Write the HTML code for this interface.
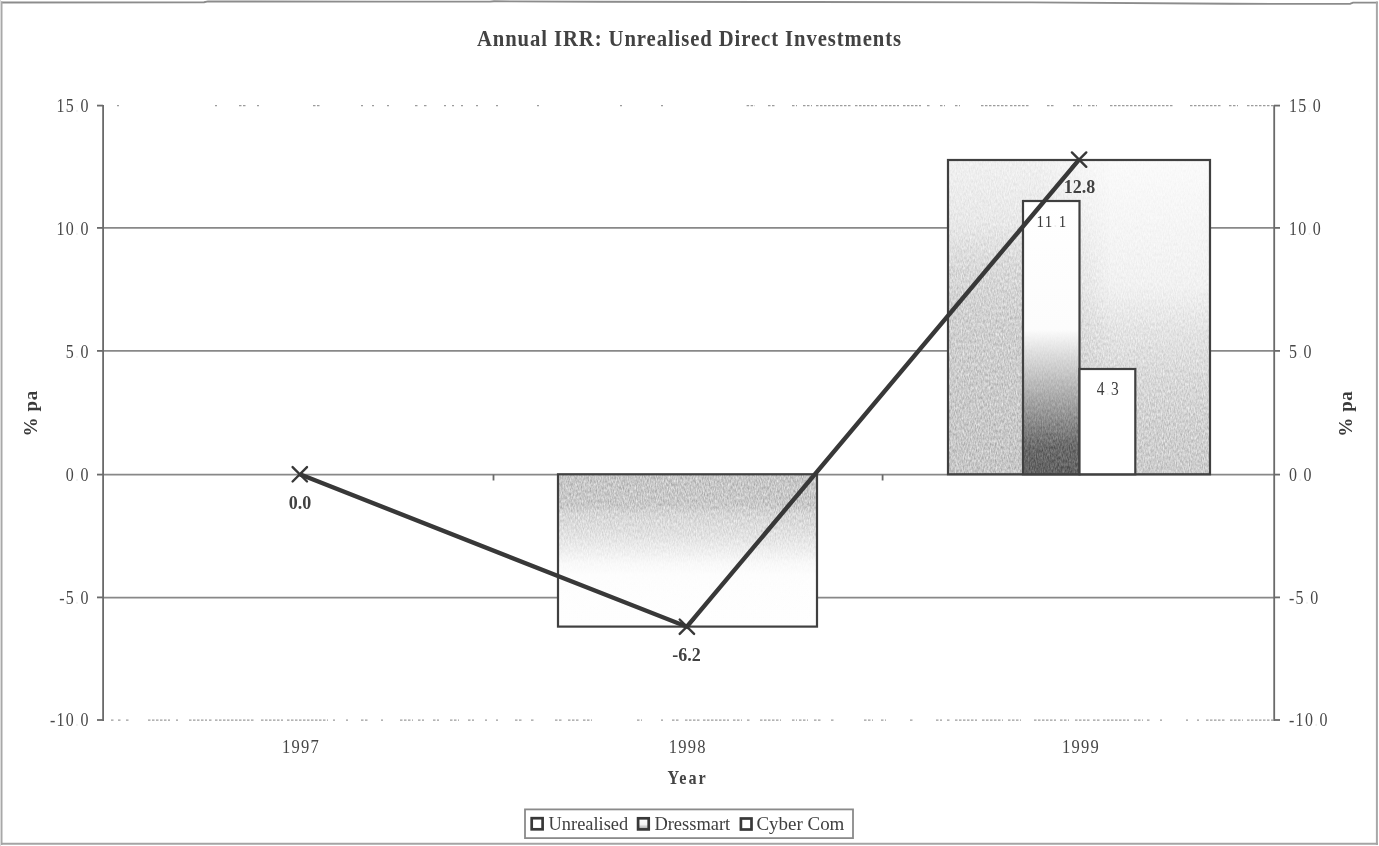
<!DOCTYPE html>
<html><head><meta charset="utf-8"><title>Annual IRR: Unrealised Direct Investments</title>
<style>
html,body{margin:0;padding:0;background:#fff;}
body{width:1379px;height:846px;overflow:hidden;position:relative;}
svg{position:absolute;left:0;top:0;display:block;}
.serif{font-family:"Liberation Serif","Times New Roman",serif;}
.sans{font-family:"Liberation Sans",Arial,sans-serif;}
</style></head>
<body>
<svg width="1379" height="846" viewBox="0 0 1379 846">
  <defs>
    <!-- 1999 unrealised: right (lighter) profile -->
    <linearGradient id="gUpR" x1="0" y1="0" x2="0" y2="1">
      <stop offset="0" stop-color="#fafafa"/>
      <stop offset="0.4" stop-color="#f1f1f1"/>
      <stop offset="0.55" stop-color="#e3e3e3"/>
      <stop offset="0.7" stop-color="#d8d8d8"/>
      <stop offset="0.85" stop-color="#d0d0d0"/>
      <stop offset="1" stop-color="#cccccc"/>
    </linearGradient>
    <!-- 1999 unrealised: left (darker) profile -->
    <linearGradient id="gUpL" x1="0" y1="0" x2="0" y2="1">
      <stop offset="0" stop-color="#f0f0f0"/>
      <stop offset="0.2" stop-color="#e8e8e8"/>
      <stop offset="0.35" stop-color="#d8d8d8"/>
      <stop offset="0.5" stop-color="#d0d0d0"/>
      <stop offset="0.75" stop-color="#cacaca"/>
      <stop offset="1" stop-color="#c6c6c6"/>
    </linearGradient>
    <linearGradient id="gFadeH" x1="0" y1="0" x2="1" y2="0">
      <stop offset="0" stop-color="#fff"/>
      <stop offset="0.35" stop-color="#fff"/>
      <stop offset="0.62" stop-color="#000"/>
      <stop offset="1" stop-color="#000"/>
    </linearGradient>
    <mask id="mLeft" maskUnits="userSpaceOnUse" x="948" y="159" width="262" height="316">
      <rect x="948" y="159" width="262" height="316" fill="url(#gFadeH)"/>
    </mask>
    <!-- 1998 unrealised (negative): grey at axis, white at end -->
    <linearGradient id="gDown" x1="0" y1="0" x2="0" y2="1">
      <stop offset="0" stop-color="#c6c6c6"/>
      <stop offset="0.2" stop-color="#c9c9c9"/>
      <stop offset="0.26" stop-color="#d6d6d6"/>
      <stop offset="0.4" stop-color="#e2e2e2"/>
      <stop offset="0.5" stop-color="#eeeeee"/>
      <stop offset="0.58" stop-color="#f8f8f8"/>
      <stop offset="0.66" stop-color="#fdfdfd"/>
      <stop offset="1" stop-color="#fefefe"/>
    </linearGradient>
    <linearGradient id="gDress" x1="0" y1="0" x2="0" y2="1">
      <stop offset="0" stop-color="#ffffff"/>
      <stop offset="0.47" stop-color="#fcfcfc"/>
      <stop offset="0.55" stop-color="#e0e0e0"/>
      <stop offset="0.68" stop-color="#b6b6b6"/>
      <stop offset="0.8" stop-color="#8e8e8e"/>
      <stop offset="0.9" stop-color="#6a6a6a"/>
      <stop offset="1" stop-color="#626262"/>
    </linearGradient>
    <linearGradient id="gLeg" x1="0" y1="0" x2="0" y2="1">
      <stop offset="0" stop-color="#fff"/>
      <stop offset="0.55" stop-color="#f4f4f4"/>
      <stop offset="1" stop-color="#9a9a9a"/>
    </linearGradient>
  <filter id="grain" x="0" y="0" width="1" height="1" color-interpolation-filters="sRGB">
      <feTurbulence type="fractalNoise" baseFrequency="0.85 0.3" numOctaves="2" seed="7" result="n"/>
      <feColorMatrix in="n" type="matrix" values="1 0 0 0 0  1 0 0 0 0  1 0 0 0 0  0 0 0 0 1" result="g"/>
      <feComposite in="SourceGraphic" in2="g" operator="arithmetic" k1="-1.7" k2="1.85" k3="1.7" k4="-0.85"/>
    </filter>
<filter id="grain2" x="0" y="0" width="1" height="1" color-interpolation-filters="sRGB">
      <feTurbulence type="fractalNoise" baseFrequency="0.85 0.3" numOctaves="2" seed="11" result="n"/>
      <feColorMatrix in="n" type="matrix" values="1 0 0 0 0  1 0 0 0 0  1 0 0 0 0  0 0 0 0 1" result="g"/>
      <feComposite in="SourceGraphic" in2="g" operator="arithmetic" k1="-0.55" k2="1.275" k3="0.55" k4="-0.275"/>
    </filter>
  </defs>

  <!-- outer frame -->
  <g fill="none" stroke-width="2">
    <polyline points="0.5,2.5 204,2.3 208,1.4 380,1.6 490,1.6 494,1.3 600,1.8 810,2 1030,2.4 1230,3.8 1350,3.9 1353,2.6 1378,2.6" stroke="#8c8c8c" stroke-width="1.9"/>
    <line x1="1.5" y1="1.5" x2="1.5" y2="845" stroke="#a8a8a8"/>
    <line x1="1376.9" y1="1.5" x2="1376.9" y2="845" stroke="#a8a8a8"/>
    <line x1="0.5" y1="843.8" x2="1378" y2="843.8" stroke="#a4a4a4"/>
  </g>
  <line x1="0.5" y1="0" x2="0.5" y2="846" stroke="#dadada" stroke-width="1"/>

  <!-- title -->
  <text class="serif" transform="translate(689 45.6) scale(0.88 1)" x="0" y="0" text-anchor="middle" font-size="23.5" font-weight="bold" fill="#424242" textLength="482" lengthAdjust="spacing">Annual IRR: Unrealised Direct Investments</text>

  <!-- top & bottom (faint, broken) gridlines -->
  <path d="M117 105.6H119M215 105.6H217M239 105.6H246M257 105.6H259M313 105.6H320M361 105.6H363M372 105.6H374M387 105.6H389M415 105.6H418M424 105.6H427M444 105.6H446M452 105.6H454M461 105.6H463M476 105.6H478M496 105.6H498M537 105.6H539M620 105.6H622M661 105.6H663M746.6 105.6H755M768 105.6H775M792 105.6H797M803 105.6H812M816 105.6H851M855 105.6H877M881 105.6H899M903 105.6H921M927 105.6H931M940 105.6H945M955 105.6H960M981 105.6H1008M1010 105.6H1029M1047 105.6H1055M1073 105.6H1082M1088 105.6H1097M1110 105.6H1142M1142 105.6H1173M1190 105.6H1221M1229 105.6H1238M1247 105.6H1273" stroke="#9c9c9c" stroke-width="1.2" stroke-dasharray="2.5 1.5" fill="none"/>
  <path d="M111 720.2H114M118 720.2H121M126 720.2H130M148 720.2H170M176 720.2H178M189 720.2H207M209 720.2H213M215 720.2H254M261 720.2H283M287 720.2H328M333 720.2H335M346 720.2H348M361 720.2H368M381 720.2H383M400 720.2H413M418 720.2H424M433 720.2H439M450 720.2H459M468 720.2H474M485 720.2H487M496 720.2H498M515 720.2H522M531 720.2H535M555 720.2H563M568 720.2H579M583 720.2H592M637 720.2H642M661 720.2H663M672 720.2H679M685 720.2H701M703 720.2H729M733 720.2H742M747 720.2H751M760 720.2H781M792 720.2H797M799 720.2H808M814 720.2H821M831 720.2H834M864 720.2H873M881 720.2H886M910 720.2H914M936 720.2H942M947 720.2H951M955 720.2H977M982 720.2H1003M1008 720.2H1021M1034 720.2H1056M1060 720.2H1069M1075 720.2H1090M1093 720.2H1101M1103 720.2H1129M1134 720.2H1143M1147 720.2H1151M1160 720.2H1162M1186 720.2H1188M1197 720.2H1199M1206 720.2H1225M1230 720.2H1243M1247 720.2H1273" stroke="#9c9c9c" stroke-width="1.2" stroke-dasharray="2.5 1.5" fill="none"/>

  <!-- gridlines -->
  <g stroke="#888888" stroke-width="1.8">
    <line x1="103" y1="227.9" x2="1274" y2="227.9"/>
    <line x1="103" y1="350.9" x2="1274" y2="350.9"/>
    <line x1="103" y1="474.6" x2="1274" y2="474.6"/>
    <line x1="103" y1="597.6" x2="1274" y2="597.6"/>
  </g>

  <!-- bars -->
  <rect x="558" y="474.3" width="259" height="152.3" fill="url(#gDown)" filter="url(#grain)"/>
  <rect x="558" y="474.3" width="259" height="152.3" fill="none" stroke="#404040" stroke-width="2.2"/>
  <g filter="url(#grain)"><rect x="948" y="160" width="262" height="314.3" fill="url(#gUpR)"/>
  <rect x="948" y="160" width="262" height="314.3" fill="url(#gUpL)" mask="url(#mLeft)"/></g>
  <rect x="948" y="160" width="262" height="314.3" fill="none" stroke="#404040" stroke-width="2.2"/>
  <rect x="1023" y="201" width="56.5" height="273.3" fill="url(#gDress)" filter="url(#grain2)"/>
  <rect x="1023" y="201" width="56.5" height="273.3" fill="none" stroke="#404040" stroke-width="2.2"/>
  <rect x="1079.5" y="369" width="55.8" height="105.3" fill="#fff" stroke="#404040" stroke-width="2.2"/>

  <!-- axes -->
  <g stroke="#6a6a6a" stroke-width="1.8" fill="none">
    <line x1="103.1" y1="105" x2="103.1" y2="721"/>
    <line x1="1274.2" y1="105" x2="1274.2" y2="721"/>
    <!-- left ticks -->
    <line x1="97" y1="105.6" x2="103" y2="105.6"/>
    <line x1="97" y1="227.9" x2="103" y2="227.9"/>
    <line x1="97" y1="350.9" x2="103" y2="350.9"/>
    <line x1="97" y1="474.6" x2="103" y2="474.6"/>
    <line x1="97" y1="597.4" x2="103" y2="597.4"/>
    <line x1="97" y1="720" x2="103" y2="720"/>
    <!-- right ticks -->
    <line x1="1274" y1="105.6" x2="1280" y2="105.6"/>
    <line x1="1274" y1="227.9" x2="1280" y2="227.9"/>
    <line x1="1274" y1="350.9" x2="1280" y2="350.9"/>
    <line x1="1274" y1="474.6" x2="1280" y2="474.6"/>
    <line x1="1274" y1="597.4" x2="1280" y2="597.4"/>
    <line x1="1274" y1="720" x2="1280" y2="720"/>
    <!-- category ticks -->
    <line x1="493.5" y1="474.6" x2="493.5" y2="480.5"/>
    <line x1="882.6" y1="474.6" x2="882.6" y2="480.5"/>
  </g>

  <!-- line series -->
  <polyline points="299.8,474.3 686.9,626.7 1079.1,159.6" fill="none" stroke="#383838" stroke-width="4.4" stroke-linejoin="miter"/>
  <g stroke="#383838" stroke-width="2.4" stroke-linecap="round">
    <path d="M292.6 467.1 L307 481.5 M292.6 481.5 L307 467.1"/>
    <path d="M679.7 619.5 L694.1 633.9 M679.7 633.9 L694.1 619.5"/>
    <path d="M1071.9 152.4 L1086.3 166.8 M1071.9 166.8 L1086.3 152.4"/>
  </g>

  <!-- data labels -->
  <g class="serif" font-size="18" font-weight="bold" fill="#414141" text-anchor="middle">
    <text x="300" y="508.5">0.0</text>
    <text x="686.6" y="661.3">-6.2</text>
    <text x="1079.5" y="193.1">12.8</text>
  </g>
  <g class="serif" font-size="18" fill="#3a3a3a" text-anchor="middle">
    <text transform="translate(1052 226.6) scale(0.86 1)" letter-spacing="1.5" font-size="17.4">11<tspan fill="#f0f0f0">.</tspan>1</text>
    <text transform="translate(1108.3 395) scale(0.86 1)" letter-spacing="1.5">4<tspan fill="#f0f0f0">.</tspan>3</text>
  </g>

  <!-- y axis labels -->
  <g class="serif" font-size="18.6" fill="#474747">
    <text transform="translate(89.7 112.2) scale(0.86 1)" text-anchor="end" letter-spacing="1.5">15<tspan fill="#f0f0f0">.</tspan>0</text>
    <text transform="translate(89.7 235.0) scale(0.86 1)" text-anchor="end" letter-spacing="1.5">10<tspan fill="#f0f0f0">.</tspan>0</text>
    <text transform="translate(89.7 358.0) scale(0.86 1)" text-anchor="end" letter-spacing="1.5">5<tspan fill="#f0f0f0">.</tspan>0</text>
    <text transform="translate(89.7 480.9) scale(0.86 1)" text-anchor="end" letter-spacing="1.5">0<tspan fill="#f0f0f0">.</tspan>0</text>
    <text transform="translate(89.7 603.8) scale(0.86 1)" text-anchor="end" letter-spacing="1.5">-5<tspan fill="#f0f0f0">.</tspan>0</text>
    <text transform="translate(89.7 726.2) scale(0.86 1)" text-anchor="end" letter-spacing="1.5">-10<tspan fill="#f0f0f0">.</tspan>0</text>
    <text transform="translate(1289 112.2) scale(0.86 1)" text-anchor="start" letter-spacing="1.5">15<tspan fill="#f0f0f0">.</tspan>0</text>
    <text transform="translate(1289 235.0) scale(0.86 1)" text-anchor="start" letter-spacing="1.5">10<tspan fill="#f0f0f0">.</tspan>0</text>
    <text transform="translate(1289 358.0) scale(0.86 1)" text-anchor="start" letter-spacing="1.5">5<tspan fill="#f0f0f0">.</tspan>0</text>
    <text transform="translate(1289 480.9) scale(0.86 1)" text-anchor="start" letter-spacing="1.5">0<tspan fill="#f0f0f0">.</tspan>0</text>
    <text transform="translate(1289 603.8) scale(0.86 1)" text-anchor="start" letter-spacing="1.5">-5<tspan fill="#f0f0f0">.</tspan>0</text>
    <text transform="translate(1289 726.2) scale(0.86 1)" text-anchor="start" letter-spacing="1.5">-10<tspan fill="#f0f0f0">.</tspan>0</text>
  </g>

  <!-- axis titles -->
  <g class="serif" font-size="18" font-weight="bold" fill="#3a3a3a" text-anchor="middle">
    <text transform="translate(36.5 413.3) rotate(-90)" font-size="19" letter-spacing="0.6">% pa</text>
    <text transform="translate(1351.5 413.7) rotate(-90)" font-size="19" letter-spacing="0.6">% pa</text>
    <text transform="translate(687.6 784.3) scale(0.9 1)" letter-spacing="2.2" fill="#444">Year</text>
  </g>

  <!-- x labels -->
  <g class="serif" font-size="18.8" fill="#464646" text-anchor="middle">
    <text transform="translate(301 752.6) scale(0.88 1)" letter-spacing="1.4">1997</text>
    <text transform="translate(687.8 752.6) scale(0.88 1)" letter-spacing="1.4">1998</text>
    <text transform="translate(1080.9 752.6) scale(0.88 1)" letter-spacing="1.4">1999</text>
  </g>

  <!-- legend -->
  <rect x="525" y="809.4" width="328" height="28.7" fill="#fff" stroke="#8a8a8a" stroke-width="1.8"/>
  <g fill="#fff" stroke="#383838" stroke-width="2.7">
    <rect x="531.7" y="818.2" width="10.9" height="11.1"/>
    <rect x="638.1" y="818.3" width="10.6" height="11.1" fill="url(#gLeg)"/>
    <rect x="740.9" y="818.5" width="10.6" height="11"/>
  </g>
  <g class="serif" font-size="19.5" fill="#404040">
    <text x="548.6" y="830.4" textLength="79.5" lengthAdjust="spacingAndGlyphs">Unrealised</text>
    <text x="654.4" y="830.4" textLength="75.8" lengthAdjust="spacingAndGlyphs">Dressmart</text>
    <text x="756.4" y="830.4" textLength="88" lengthAdjust="spacingAndGlyphs">Cyber Com</text>
  </g>
</svg>
</body></html>
